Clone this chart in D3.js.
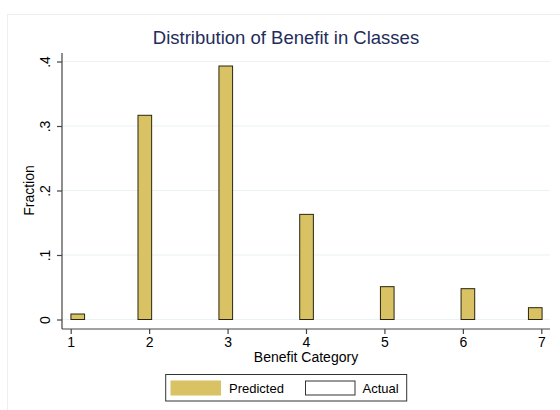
<!DOCTYPE html>
<html>
<head>
<meta charset="utf-8">
<script src="https://cdn.jsdelivr.net/npm/d3@7"></script>
<style>
  html, body { margin: 0; padding: 0; background: #fff; }
  svg { display: block; font-family: "Liberation Sans", Arial, Helvetica, sans-serif; }
</style>
</head>
<body>
<svg id="chart" width="560" height="410"></svg>
<script>
// ---- data ----
const categories = [1, 2, 3, 4, 5, 6, 7];
const barPositions = [1.09, 1.945, 2.977, 4.007, 5.036, 6.064, 6.923];
const predicted = [0.0085, 0.3166, 0.393, 0.163, 0.0509, 0.0478, 0.0183];
const barWidth = 0.174;
const yTicks = [0, 0.1, 0.2, 0.3, 0.4];
const yTickLabels = ["0", ".1", ".2", ".3", ".4"];
const legendLabels = ["Predicted", "Actual"];
const titleText = "Distribution of Benefit in Classes";
const xTitle = "Benefit Category";
const yTitle = "Fraction";

const svg = d3.select("#chart");

// faint outer frame
svg.append("rect")
  .attr("x", 7.5).attr("y", 14.5)
  .attr("width", 560).attr("height", 400)
  .attr("fill", "#fff").attr("stroke", "#eeeeee").attr("stroke-width", 1);

const x = d3.scaleLinear().domain([1, 7]).range([70.7, 541.3]);
const y = d3.scaleLinear().domain([0, 0.4]).range([319.5, 61.5]);

const plotLeft = 62, plotRight = 550, plotTop = 53, plotBottom = 329;

// gridlines
svg.append("g").selectAll("line").data(yTicks).join("line")
  .attr("x1", plotLeft).attr("x2", plotRight)
  .attr("y1", d => y(d)).attr("y2", d => y(d))
  .attr("stroke", "#eaf2f3").attr("stroke-width", 1.2);

// bars
svg.append("g").selectAll("rect").data(predicted).join("rect")
  .attr("x", (d, i) => x(barPositions[i] - barWidth / 2))
  .attr("width", (d, i) => x(barPositions[i] + barWidth / 2) - x(barPositions[i] - barWidth / 2))
  .attr("y", d => y(d))
  .attr("height", d => y(0) - y(d))
  .attr("fill", "#d8c264")
  .attr("stroke", "#2a2610").attr("stroke-width", 1);

// y axis
const yAxis = d3.axisLeft(y).tickValues(yTicks)
  .tickFormat((d, i) => yTickLabels[i]).tickSize(5).tickPadding(3);
const gy = svg.append("g").attr("transform", `translate(${plotLeft},0)`).call(yAxis);
gy.select(".domain").remove();
gy.append("line").attr("x1", 0).attr("x2", 0).attr("y1", plotTop).attr("y2", plotBottom)
  .attr("stroke", "#444").attr("stroke-width", 1.2);
gy.selectAll(".tick line").attr("stroke", "#444").attr("stroke-width", 1.2);
gy.selectAll(".tick text")
  .attr("font-size", 14).attr("fill", "#000")
  .attr("x", null).attr("dy", null)
  .attr("text-anchor", "middle")
  .attr("transform", "translate(-12,0) rotate(-90)")
  .attr("y", 0);

// x axis
const xAxis = d3.axisBottom(x).tickValues(categories)
  .tickFormat(d3.format("d")).tickSize(5).tickPadding(3);
const gx = svg.append("g").attr("transform", `translate(0,${plotBottom})`).call(xAxis);
gx.select(".domain").remove();
gx.append("line").attr("x1", plotLeft).attr("x2", plotRight).attr("y1", 0).attr("y2", 0)
  .attr("stroke", "#444").attr("stroke-width", 1.2);
gx.selectAll(".tick line").attr("stroke", "#444").attr("stroke-width", 1.2);
gx.selectAll(".tick text").attr("font-size", 14).attr("fill", "#000");

// titles
svg.append("text").attr("x", 286).attr("y", 44)
  .attr("text-anchor", "middle").attr("font-size", 18.5).attr("fill", "#1e2d5a")
  .text(titleText);
svg.append("text").attr("x", 306).attr("y", 362)
  .attr("text-anchor", "middle").attr("font-size", 14).attr("fill", "#000")
  .text(xTitle);
svg.append("text")
  .attr("transform", `translate(34,${(y(0) + y(0.4)) / 2}) rotate(-90)`)
  .attr("text-anchor", "middle").attr("font-size", 14).attr("fill", "#000")
  .text(yTitle);

// legend
const lg = svg.append("g");
lg.append("rect").attr("x", 165.7).attr("y", 374.5).attr("width", 241).attr("height", 26.5)
  .attr("fill", "#fff").attr("stroke", "#333").attr("stroke-width", 1);
const legendItems = [
  { label: legendLabels[0], fill: "#d8c264", stroke: "#d8c264", sx: 171, tx: 229 },
  { label: legendLabels[1], fill: "#fff", stroke: "#333", sx: 305.5, tx: 362.5 }
];
legendItems.forEach(it => {
  lg.append("rect").attr("x", it.sx).attr("y", 381).attr("width", 49.5).attr("height", 14)
    .attr("fill", it.fill).attr("stroke", it.stroke).attr("stroke-width", 1);
  lg.append("text").attr("x", it.tx).attr("y", 392.5).attr("font-size", 13).attr("fill", "#000")
    .text(it.label);
});
</script>
</body>
</html>
